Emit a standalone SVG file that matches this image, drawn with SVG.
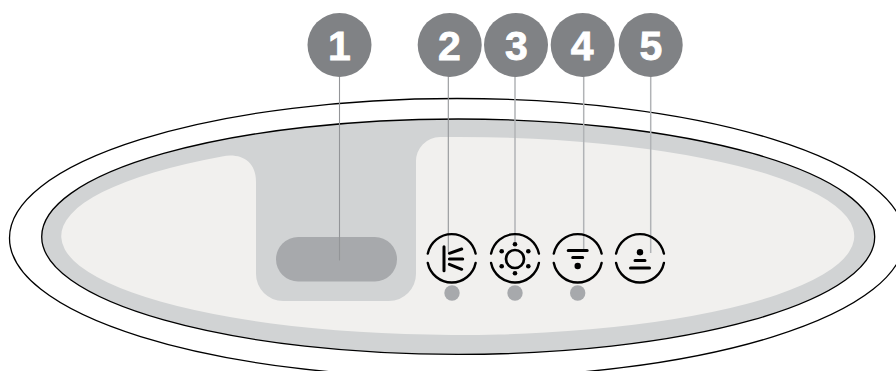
<svg xmlns="http://www.w3.org/2000/svg" width="896" height="371" viewBox="0 0 896 371">
<style>
.outline{stroke:#000;stroke-width:1.3}
.badge{fill:#808285}
.num{font-family:"Liberation Sans",Arial,sans-serif;font-weight:700;font-size:41px;fill:#fff;stroke:#fff;stroke-width:.8;text-anchor:middle}
.ring{fill:none;stroke:#000;stroke-width:2.4;stroke-linecap:round}
.ink{fill:none;stroke:#000;stroke-width:3;stroke-linecap:round}
.pip{fill:#000}
.led{fill:#a7a9ac}
.lead1{stroke:#939598;stroke-width:1.1;fill:none}
.lead2{stroke:#b1b3b6;stroke-width:1.5;fill:none}
</style>
<defs>
<g id="ring"><path class="ring" d="M-23.9-4.7A24.4 24.4 0 0 1 23.9-4.7M-23.9 4.7A24.4 24.4 0 0 0 23.9 4.7"/></g>
</defs>
<rect width="896" height="371" fill="#fff"/>
<g id="body">
<ellipse class="outline" cx="457" cy="238" rx="447.5" ry="139.5" fill="#fff"/>
<ellipse class="outline" cx="458.2" cy="236.7" rx="416.5" ry="117.7" fill="#d1d3d4"/>
<path fill="#f1f0ee" d="M440 137.1A396.5 99 0 1 1 222 156.4C240 153 256 160 256 182V274A27 27 0 0 0 283 301H389A27 27 0 0 0 416 274V162A24 24 0 0 1 440 137.1Z"/>
<rect x="276" y="237" width="121" height="44.5" rx="22.2" fill="#a7a9ac"/>
</g>
<g id="connectors">
<path class="lead1" d="M339.5 76V260.5"/>
<path class="lead1" d="M448.3 76V252"/>
<path class="lead2" d="M515 76V245"/>
<path class="lead2" d="M583.7 76V250"/>
<path class="lead2" d="M650.7 76V253"/>
</g>
<g id="badge-1"><circle class="badge" cx="339.5" cy="45" r="32"/><text class="num" x="339.5" y="59.5">1</text></g>
<g id="badge-2"><circle class="badge" cx="449.7" cy="45" r="32"/><text class="num" x="449.3" y="59.5">2</text></g>
<g id="badge-3"><circle class="badge" cx="516" cy="45" r="32"/><text class="num" x="516.5" y="59.5">3</text></g>
<g id="badge-4"><circle class="badge" cx="582.7" cy="45" r="32"/><text class="num" x="582.2" y="59.5">4</text></g>
<g id="badge-5"><circle class="badge" cx="650.7" cy="45" r="32"/><text class="num" x="651" y="59.5">5</text></g>
<g id="button-2" transform="translate(451.7 258.3)">
<use href="#ring"/>
<path class="ink" d="M-7.7-11.5V12.5M-2.3-5 10-9.3M-2.3 .7H11M-2.3 6 10 11"/>
</g>
<g id="button-3" transform="translate(515 258.3)">
<use href="#ring"/>
<circle cx="0" cy=".7" r="9" fill="none" stroke="#000" stroke-width="2.7"/>
<g class="pip"><circle cx="0" cy="-14" r="2.3"/><circle cx="0" cy="15" r="2.3"/><circle cx="-13.3" cy="-7" r="2.3"/><circle cx="13.3" cy="-7" r="2.3"/><circle cx="-13.3" cy="8" r="2.3"/><circle cx="13.3" cy="8" r="2.3"/></g>
</g>
<g id="button-4" transform="translate(577.7 258.3)">
<use href="#ring"/>
<path class="ink" d="M-9.5-7.7H9.5M-5-.7H5"/>
<circle class="pip" cx="0" cy="7.7" r="3.2"/>
</g>
<g id="button-5" transform="translate(640 258.3)">
<use href="#ring"/>
<path class="ink" d="M-5 2.3H5M-9.5 9.7H9.5"/>
<circle class="pip" cx="0" cy="-6" r="3.2"/>
</g>
<g id="led-2"><circle class="led" cx="452" cy="293" r="7.7"/></g>
<g id="led-3"><circle class="led" cx="515" cy="293" r="7.7"/></g>
<g id="led-4"><circle class="led" cx="577.7" cy="293" r="7.7"/></g>
</svg>
